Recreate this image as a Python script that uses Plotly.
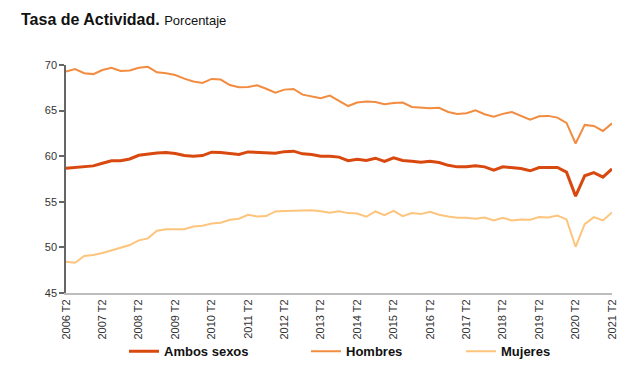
import plotly.graph_objects as go

years = list(range(2006, 2022))
quarters = []
for y in range(2006, 2022):
    for q in (1, 2, 3, 4):
        if (y == 2006 and q < 2) or (y == 2021 and q > 2):
            continue
        quarters.append(f"{y} T{q}")

ambos = [58.69, 58.8, 58.9, 58.94, 59.23, 59.5, 59.5, 59.7, 60.1, 60.25,
         60.35, 60.4, 60.3, 60.07, 60.0, 60.07, 60.44, 60.4, 60.3, 60.2,
         60.47, 60.44, 60.33, 60.33, 60.5, 60.55, 60.26, 60.18, 60.0, 60.0,
         59.9, 59.5, 59.67, 59.53, 59.78, 59.42, 59.82, 59.53, 59.45, 59.34,
         59.45, 59.3, 59.0, 58.83, 58.85, 58.94, 58.83, 58.47, 58.83, 58.76,
         58.65, 58.4, 58.76, 58.76, 58.76, 58.25, 55.62, 57.85, 58.2, 57.7,
         58.6]
hombres = [69.27, 69.56, 69.1, 69.0, 69.45, 69.7, 69.35, 69.4, 69.7, 69.8,
           69.2, 69.1, 68.9, 68.5, 68.2, 68.03, 68.47, 68.4, 67.8, 67.55,
           67.6, 67.77, 67.4, 66.97, 67.3, 67.37, 66.75, 66.57, 66.35, 66.64,
           66.1, 65.5, 65.88, 66.0, 65.95, 65.7, 65.84, 65.88, 65.4, 65.3,
           65.26, 65.3, 64.85, 64.64, 64.72, 65.04, 64.6, 64.34, 64.64, 64.85,
           64.45, 64.0, 64.38, 64.42, 64.23, 63.65, 61.39, 63.43, 63.32, 62.77,
           63.6]
mujeres = [48.43, 48.32, 49.05, 49.16, 49.38, 49.64, 49.96, 50.26, 50.77, 50.99,
           51.82, 52.0, 52.04, 52.0, 52.3, 52.37, 52.63, 52.7, 53.03, 53.14,
           53.58, 53.4, 53.43, 53.94, 54.0, 54.05, 54.05, 54.08, 53.97, 53.8,
           53.97, 53.76, 53.72, 53.36, 53.94, 53.54, 54.0, 53.43, 53.76, 53.65,
           53.9, 53.58, 53.4, 53.25, 53.25, 53.14, 53.28, 52.96, 53.25, 52.96,
           53.07, 53.03, 53.32, 53.28, 53.5, 53.07, 50.07, 52.55, 53.32, 52.96,
           53.83]

tick_labels = [f"{y} T2" for y in years]
y_ticks = [45, 50, 55, 60, 65, 70]

series = [
    ("Ambos sexos", ambos, "#d9480f", 3, "legend"),
    ("Hombres", hombres, "#f28c40", 2, "legend2"),
    ("Mujeres", mujeres, "#fdc47c", 2, "legend3"),
]

fig = go.Figure()
for name, vals, color, w, leg in series:
    fig.add_trace(go.Scatter(
        x=quarters, y=vals, mode="lines", name=name, showlegend=True,
        line=dict(color=color, width=w), legend=leg,
    ))

legend_common = dict(
    orientation="h", yanchor="middle", y=-0.256, xanchor="left",
    font=dict(family="Arial, Liberation Sans", size=13, color="#111", weight="bold"),
    bgcolor="rgba(0,0,0,0)", itemwidth=30, visible=True,
)

fig.update_layout(
    width=642, height=375, showlegend=True,
    margin=dict(l=58, r=38, t=57, b=90),
    paper_bgcolor="white", plot_bgcolor="white",
    font=dict(family="Arial, Liberation Sans", size=11, color="#333"),
    title=dict(
        text="<b>Tasa de Actividad.</b> <span style='font-size:13px'>Porcentaje</span>",
        font=dict(size=16, color="#111"),
        x=13 / 642, xanchor="left", xref="container",
        y=1 - 11 / 375, yanchor="middle", yref="container",
    ),
    xaxis=dict(
        type="category", categoryorder="array", categoryarray=quarters,
        range=[0, len(quarters) - 1],
        tickmode="array", tickvals=tick_labels, ticktext=tick_labels,
        tickangle=-90, showgrid=False, zeroline=False,
        showline=True, linecolor="#bdbdbd", linewidth=2,
        ticks="", tickfont=dict(size=11, color="#333"),
    ),
    yaxis=dict(
        range=[45, 70], tickvals=y_ticks, showgrid=False, zeroline=False,
        showline=True, linecolor="#666", linewidth=1.5,
        ticks="outside", ticklen=5, tickcolor="#666", tickwidth=1.5,
        tickfont=dict(size=11, color="#333"),
    ),
    legend=dict(x=(124 - 66) / 546, **legend_common),
    legend2=dict(x=(306 - 66) / 546, **legend_common),
    legend3=dict(x=(461 - 66) / 546, **legend_common),
)

fig.write_html("out.html")
